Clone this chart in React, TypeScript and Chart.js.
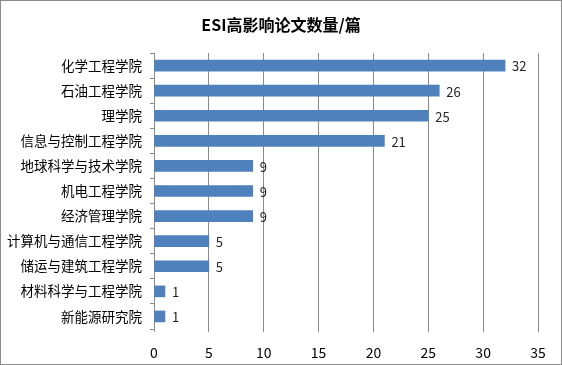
import React, { useEffect, useRef } from "react";
import { Chart, registerables } from "chart.js";

Chart.register(...registerables);

const title = "ESI高影响论文数量/篇";
const categories = [
  "化学工程学院",
  "石油工程学院",
  "理学院",
  "信息与控制工程学院",
  "地球科学与技术学院",
  "机电工程学院",
  "经济管理学院",
  "计算机与通信工程学院",
  "储运与建筑工程学院",
  "材料科学与工程学院",
  "新能源研究院",
];
const values = [32, 26, 25, 21, 9, 9, 9, 5, 5, 1, 1];
const xTicks = [0, 5, 10, 15, 20, 25, 30, 35];

const FONT = "'Noto Sans CJK SC', 'Microsoft YaHei', sans-serif";

export default function App() {
  const ref = useRef<HTMLCanvasElement>(null);
  useEffect(() => {
    document.body.style.margin = "0";
    const labelPlugin = {
      id: "labelsAndTitle",
      afterDatasetsDraw(chart: any) {
        const ctx = chart.ctx;
        const meta = chart.getDatasetMeta(0);
        ctx.save();
        ctx.font = `13px ${FONT}`;
        ctx.fillStyle = "#262626";
        ctx.textAlign = "left";
        ctx.textBaseline = "middle";
        meta.data.forEach((bar: any, i: number) => {
          ctx.fillText(String(values[i]), bar.x + 7, bar.y + 1);
        });
        ctx.font = `bold 16px ${FONT}`;
        ctx.textAlign = "center";
        ctx.fillStyle = "#000";
        ctx.fillText(title, chart.width / 2, 24);
        ctx.restore();
      },
    };
    const chart = new Chart(ref.current!, {
      type: "bar",
      data: {
        labels: categories,
        datasets: [
          {
            data: values,
            backgroundColor: "#4F81BD",
            borderWidth: 0,
            barThickness: 11,
          },
        ],
      },
      options: {
        indexAxis: "y",
        animation: false,
        responsive: false,
        maintainAspectRatio: false,
        layout: { padding: { left: 0, right: 23, top: 52, bottom: 0 } },
        plugins: {
          legend: { display: false },
          tooltip: { enabled: false },
          title: { display: false },
        },
        scales: {
          x: {
            min: 0,
            max: 35,
            afterBuildTicks(scale: any) {
              scale.ticks = xTicks.map((v) => ({ value: v }));
            },
            afterFit(scale: any) {
              scale.height = 35;
            },
            grid: {
              color: "#8a8a8a",
              lineWidth: 1,
              tickLength: 3,
              drawTicks: true,
            },
            border: { display: false },
            ticks: {
              padding: 12,
              color: "#000",
              font: { family: FONT, size: 14 },
            },
          },
          y: {
            afterFit(scale: any) {
              scale.width = 153;
            },
            grid: {
              offset: true,
              drawOnChartArea: false,
              tickLength: 4,
              color: "#8a8a8a",
            },
            border: { display: true, color: "#8a8a8a" },
            ticks: {
              padding: 8,
              color: "#000",
              font: { family: FONT, size: 13.5 },
            },
          },
        },
      },
      plugins: [labelPlugin],
    } as any);
    return () => chart.destroy();
  }, []);
  return (
    <div
      style={{
        width: 562,
        height: 365,
        boxSizing: "border-box",
        border: "1px solid #8c8c8c",
        background: "#fff",
      }}
    >
      <canvas ref={ref} width={560} height={363} style={{ display: "block" }} />
    </div>
  );
}
